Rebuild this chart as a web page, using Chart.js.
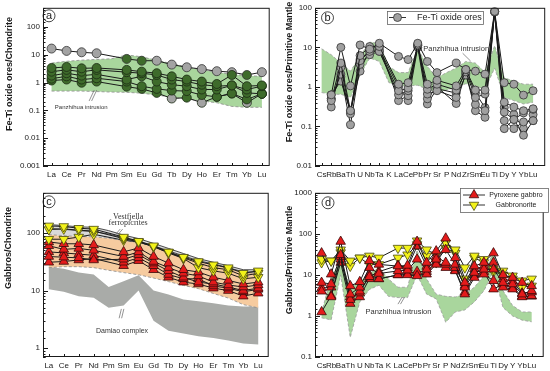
<!DOCTYPE html>
<html>
<head>
<meta charset="utf-8">
<script src="https://cdn.jsdelivr.net/npm/chart.js@4/dist/chart.umd.min.js"></script>
<style>
  body { margin: 0; background: #fff; }
  #wrap { position: relative; width: 550px; height: 371px; }
  canvas { position: absolute; }
</style>
</head>
<body>
<div id="wrap">
  <canvas id="chartA" width="275" height="185" style="left:0;top:0"></canvas>
  <canvas id="chartB" width="275" height="185" style="left:275px;top:0"></canvas>
  <canvas id="chartC" width="275" height="186" style="left:0;top:185px"></canvas>
  <canvas id="chartD" width="275" height="186" style="left:275px;top:185px"></canvas>
</div>
<script>
// categories
const reeCats = ['La', 'Ce', 'Pr', 'Nd', 'Pm', 'Sm', 'Eu', 'Gd', 'Tb', 'Dy', 'Ho', 'Er', 'Tm', 'Yb', 'Lu']
const spiderCats = ['Cs', 'Rb', 'Ba', 'Th', 'U', 'Nb', 'Ta', 'K', 'La', 'Ce', 'Pb', 'Pr', 'Sr', 'P', 'Nd', 'Zr', 'Sm', 'Eu', 'Ti', 'Dy', 'Y', 'Yb', 'Lu']

// (a) Fe-Ti oxide ores / chondrite
const oreReeTop = [17, 14, 12.5, 11.5, null, 7.2, 6.2, 6.2, 4.5, 3.6, 3.1, 2.6, 2.4, 1.9, 2.4]
const oreRee1 = [3.4, 3.7, 3.3, 3.4, null, 2.9, 2.5, 2.2, 1.7, 1.3, 1.1, 0.9, 1.9, 0.75, 0.8]
const oreRee2 = [2.5, 2.9, 2.5, 2.9, null, 2.4, 2.2, 1.9, 1.3, 1.1, 0.85, 0.75, 0.8, 0.57, 0.75]
const oreRee3 = [1.8, 2.2, 1.8, 2.0, null, 1.3, 1.7, 1.1, 0.85, 0.75, 0.57, 0.57, 0.8, 0.43, 0.4]
const oreRee4 = [1.4, 1.7, 1.3, 1.45, null, 1.1, 0.75, 0.6, 0.52, 0.5, 0.36, 0.31, 0.41, 0.25, 0.4]
const oreRee5 = [1.2, 1.3, 1.0, 1.1, null, 0.72, 0.6, 0.43, 0.27, 0.29, 0.19, 0.31, 0.41, 0.19, 0.4]
const pzhReeHigh = [5.1, 5.9, 6.5, 6.9, 7.3, 10, 8.6, 6.4, 4.9, 3.7, 2.9, 2.4, 2.0, 1.8, 1.7]
const pzhReeLow = [0.5, 0.5, 0.5, 0.48, 0.46, 0.45, 0.42, 0.36, 0.3, 0.26, 0.22, 0.19, 0.14, 0.13, 0.13]

// (b) Fe-Ti oxide ores / primitive mantle
const oreSpider1 = [null, 0.63, 10, 1.06, 11.5, 9, 12.7, null, 5.9, 4.9, 12.7, 4.4, 2.3, null, 4.0, 2.75, 2.5, 2.1, 81, 1.28, 1.17, 0.62, 0.8]
const oreSpider2 = [null, 0.45, 4.0, 0.25, 6.2, 10.5, 10.5, null, 1.17, 1.28, 11.5, 1.17, 1.47, null, 1.06, 2.75, 0.83, 0.83, 81, 0.41, 0.31, 0.25, 0.28]
const oreSpider3 = [null, 0.31, 3.1, 0.21, 4.6, 7.9, 7.9, null, 0.8, 0.93, 11, 0.87, 1.17, null, 0.83, 2.4, 0.54, 0.66, 80, 0.23, 0.15, 0.22, 0.27]
const oreSpider4 = [null, 0.5, 2.1, 0.11, 3.7, 6.5, 7.9, null, 0.63, 0.8, 11, 0.66, 0.8, null, 0.54, 2.0, 0.36, 0.25, 78, 0.14, 0.088, 0.13, 0.14]
const oreSpider5 = [null, 0.63, 1.4, 0.25, 2.5, 9, 10.5, null, 0.45, 0.6, 12, 0.5, 1.0, null, 0.38, 2.2, 0.25, 0.17, 80, 0.088, 0.15, 0.06, 0.14]
const oreSpider6 = [null, 0.5, 1.8, 0.23, 5.0, 8, 9, null, 1.0, 0.45, 10, 0.37, 0.9, null, 0.7, 2.6, 0.7, 0.3, 79, 0.3, 0.2, 0.088, 0.2]
const pzhSpiderHigh = [9.2, 6.5, 4, 2.5, 6, 13.5, 12.7, 3.3, 2.3, 2.3, 9.5, 3.3, 1.7, 2.3, 3, 4.4, 4, 2.3, 11, 1.7, 1.4, 1.17, 1.17]
const pzhSpiderLow = [0.72, 0.65, 0.65, 0.54, 2, 5.4, 4.4, 1.28, 1.06, 1.06, 1.1, 0.87, 0.72, 0.83, 1.0, 1.2, 1.06, 0.87, 3, 0.54, 0.45, 0.37, 0.41]

// (c) gabbros / chondrite
const gnRee1 = [133, 130, 121, 117, null, 85, 72, 60, 47, 38, 32, 28, 25, 20, 22]
const gnRee2 = [78, 78, 85, 95, null, 75, 70, 58, 45, 36, 25, 22, 20, 16, 17]
const gnRee3 = [115, 118, 112, 108, null, 80, 70, 58, 46, 37, 30, 25, 23, 18, 20]
const pxRee1 = [70, 65, 65, 62, null, 47, 55, 39, 30, 23, 21, 17, 15, 13, 14]
const pxRee2 = [60, 52, 54, 50, null, 39, 47, 32, 25, 20, 18, 14, 12.5, 11.5, 12.5]
const pxRee3 = [47, 45, 43, 41, null, 31, 37, 27, 19, 16, 16, 12, 11, 9.5, 10.5]
const pxRee4 = [31, 32, 34, 36, null, 27, 33, 23, 17, 14, 13, 11, 10, 8, 9]
const pxRee5 = [39, 38, 37, 34, null, 35, 42, 30, 22, 17, 14, 13, 11.5, 10, 11]
const vestHigh = [140, 135, 128, 126, 110, 92, 80, 66, 54, 44, 36, 31, 27, 23, 23]
const vestMid = [120, 116, 110, 106, 96, 82, 72, 60, 49, 40, 33, 29, 25, 21, 21]
const pzhGabbroHigh = [94, 90, 87, 86, 81, 74, 68, 58, 47, 39, 32, 28, 24.5, 20.5, 20]
const pzhGabbroLow = [25, 26, 26, 25, 22.5, 20.5, 18.8, 16.5, 14.3, 12.3, 10.8, 8.9, 7.4, 5.7, 5.0]
const damiaoHigh = [26, 24, 20.5, 19, 11.5, 14.5, 18.5, 10, 8.5, 7, 6.5, 6, 5.5, 5.3, 5.3]
const damiaoLow = [10.5, 9.5, 8, 7.5, 5, 5.5, 10, 3, 2, 1.8, 1.6, 1.5, 1.35, 1.2, 1.15]

// (d) gabbros / primitive mantle
const pxSpider1 = [34, 10.4, 65, 5.4, 6.8, 22, 18, null, 16.4, 17, 65, 20, 38, 78, 26, 6.5, 16.4, 20, 34, 10, 8.6, 6.5, 5.4]
const pxSpider2 = [6.5, 6, 31, 3.4, 5, 15, 10.8, null, 12.5, 13, 24, 13.7, 24, 41, 18, 5, 11.4, 13.7, 13.7, 6.5, 6, 3.4, 4.1]
const pxSpider3 = [4.8, 5, 24, 2.9, 3.6, 10, 8, null, 10, 10, 9.5, 10.4, 18, 18, 12.5, 3.4, 8.6, 10.4, 7.2, 5, 4.5, 2.9, 3.1]
const pxSpider4 = [1.25, 3.1, 20, 2.0, 2.9, 8, 8, null, 10, 11, 12, 12, 20, 15, 13, 3.8, 10, 12, 4.5, 6, 5, 3, 3]
const pxSpider5 = [4, 2.9, 28, 2.5, 4, 9, 12, null, 17, 15, 50, 16, 28, 20, 15, 5.5, 14, 16, 20, 8, 7, 3.6, 3.8]
const gnSpider1 = [24, 22, 41, 22, 26, 29, 26, null, 45, 45, 68, 41, 31, 60, 41, 15, 29, 24, 13.7, 12.5, 9.5, 7.2, 8]
const gnSpider2 = [20, 22, 35, 16.4, 26, 18, 18, null, 26, 31, 55, 29, 20, 45, 34, 8, 26, 20, 12, 10, 8, 5, 5.4]
const pzhGabbroSpiderHigh = [1.2, 9, 22, 5, 7, 11, 15, 8, 5, 5, 40, 8, 3.4, 3, 2.9, 3.4, 5, 9.5, 38, 4.1, 1.8, 1.25, 1.25]
const pzhGabbroSpiderLow = [0.9, 0.8, 10, 0.3, 2.2, 4.4, 5.6, 3, 2.8, 2.8, 10, 3.4, 2.6, 0.7, 1.25, 1.4, 2.2, 4.1, 12.5, 1.6, 1.0, 0.79, 0.72]

const FONT = '"Liberation Sans", Arial, sans-serif'
const SERIF = '"Liberation Serif", "Times New Roman", serif'
const FIELD_GREEN = '#a9d69d'

const GREEN_DOT = { style: 'circle', radius: 4.5, fill: '#3e6b2b', stroke: '#1c2b14' }
const GRAY_DOT = { style: 'circle', radius: 4.5, fill: '#a3a3a3', stroke: '#333' }
const ORE_DOT = { style: 'circle', radius: 4, fill: '#a0a0a0', stroke: '#333' }
const RED_UP = { style: 'triangle', radius: 5.5, fill: '#e41b1b', stroke: '#3a0a0a' }
const YELLOW_DOWN = { style: 'triangle', radius: 5.5, rotation: 180, fill: '#f2f21a', stroke: '#4a4a10' }

const isDecade = v => Math.abs(Math.log10(v) - Math.round(Math.log10(v))) < 1e-6
const pts = vals => vals.map((v, i) => (v == null ? null : { x: i, y: v })).filter(Boolean)
const keep = (vals, arr) => arr.filter((_, i) => vals[i] != null)

function sampleLine(vals, marker, fills) {
  return {
    data: pts(vals),
    borderColor: '#1a1a1a',
    borderWidth: 1,
    pointStyle: marker.style,
    pointRadius: marker.radius,
    pointRotation: marker.rotation || 0,
    pointBackgroundColor: fills ? keep(vals, fills) : marker.fill,
    pointBorderColor: marker.stroke,
    pointBorderWidth: 0.8,
    order: 0,
  }
}

// a field is one closed outline: upper edge forward, lower edge back
function field(upper, lower, color) {
  return {
    data: [...pts(upper), ...pts(lower).reverse()],
    fill: 'shape',
    backgroundColor: color,
    borderColor: 'rgba(0,0,0,0)',
    borderWidth: 0,
    pointRadius: 0,
    order: 6,
  }
}

function edge(vals, color, dashed) {
  return {
    data: pts(vals),
    borderColor: color,
    borderWidth: 0.8,
    borderDash: dashed ? [3, 2] : [],
    pointRadius: 0,
    fill: false,
    order: 5,
  }
}

function drawMarker(ctx, m, cx, cy) {
  ctx.fillStyle = m.fill
  ctx.strokeStyle = m.stroke
  ctx.lineWidth = 0.8
  ctx.beginPath()
  if (m.style === 'circle') {
    ctx.arc(cx, cy, m.radius, 0, Math.PI * 2)
  } else {
    const dir = m.rotation === 180 ? -1 : 1
    const r = m.radius
    ctx.moveTo(cx, cy - dir * r)
    ctx.lineTo(cx + r * 0.866, cy + dir * r * 0.5)
    ctx.lineTo(cx - r * 0.866, cy + dir * r * 0.5)
    ctx.closePath()
  }
  ctx.fill()
  ctx.stroke()
}

// frame, inward ticks, axis title, panel letter, notes and legend box
const decor = {
  id: 'decor',
  afterDraw(chart, args, o) {
    const { ctx, chartArea: a, scales: { x, y } } = chart
    ctx.save()
    ctx.strokeStyle = '#1a1a1a'
    ctx.lineWidth = 1
    ctx.strokeRect(a.left + 0.5, a.top + 0.5, a.right - a.left - 1, a.bottom - a.top - 1)

    ctx.beginPath()
    y.ticks.forEach(t => {
      const py = Math.round(y.getPixelForValue(t.value)) + 0.5
      ctx.moveTo(a.left, py)
      ctx.lineTo(a.left + (isDecade(t.value) ? 5 : 2.5), py)
    })
    x.ticks.forEach(t => {
      const px = Math.round(x.getPixelForValue(t.value)) + 0.5
      ctx.moveTo(px, a.bottom)
      ctx.lineTo(px, a.bottom - 3)
    })
    ctx.stroke()

    // y title sits a bit above the plot middle in the original
    ctx.save()
    ctx.translate(o.title.x, o.title.y)
    ctx.rotate(-Math.PI / 2)
    ctx.font = `bold 9px ${FONT}`
    ctx.fillStyle = '#1a1a1a'
    ctx.textAlign = 'center'
    ctx.textBaseline = 'middle'
    ctx.fillText(o.title.text, 0, 0)
    ctx.restore()

    const lx = a.left + o.letter.dx
    const ly = a.top + o.letter.dy
    ctx.beginPath()
    ctx.arc(lx, ly, 6, 0, Math.PI * 2)
    ctx.lineWidth = 0.8
    ctx.stroke()
    ctx.font = `11px ${FONT}`
    ctx.fillStyle = '#1a1a1a'
    ctx.textAlign = 'center'
    ctx.textBaseline = 'middle'
    ctx.fillText(o.letter.text, lx, ly + 0.5)

    const notes = o.notes || []
    notes.forEach(n => {
      ctx.font = `${n.size}px ${n.family || FONT}`
      ctx.fillStyle = '#333'
      ctx.textAlign = n.align || 'left'
      ctx.textBaseline = 'middle'
      ctx.fillText(n.text, x.getPixelForValue(n.x), y.getPixelForValue(n.y))
    })

    const leaders = o.leaders || []
    ctx.strokeStyle = '#666'
    ctx.lineWidth = 0.7
    leaders.forEach(l => {
      const x1 = x.getPixelForValue(l.x1)
      const y1 = y.getPixelForValue(l.y1)
      const x2 = x.getPixelForValue(l.x2)
      const y2 = y.getPixelForValue(l.y2)
      ctx.beginPath()
      ctx.moveTo(x1, y1)
      ctx.lineTo(x2, y2)
      if (l.double) {
        ctx.moveTo(x1 + 2.5, y1)
        ctx.lineTo(x2 + 2.5, y2)
      }
      ctx.stroke()
    })

    const L = o.legend
    if (L) {
      ctx.fillStyle = '#fff'
      ctx.fillRect(L.x, L.y, L.w, L.h)
      ctx.strokeStyle = '#666'
      ctx.lineWidth = 0.8
      ctx.strokeRect(L.x + 0.5, L.y + 0.5, L.w, L.h)
      L.items.forEach(it => {
        ctx.strokeStyle = '#333'
        ctx.lineWidth = 1
        ctx.beginPath()
        ctx.moveTo(L.lineX1, it.y)
        ctx.lineTo(L.lineX2, it.y)
        ctx.stroke()
        drawMarker(ctx, it.marker, (L.lineX1 + L.lineX2) / 2, it.y)
        ctx.fillStyle = '#222'
        ctx.font = `${L.size}px ${FONT}`
        ctx.textAlign = L.textAlign
        ctx.textBaseline = 'middle'
        ctx.fillText(it.label, L.textX, it.y)
      })
    }
    ctx.restore()
  },
}

function makeChart(id, cfg) {
  return new Chart(document.getElementById(id), {
    type: 'line',
    data: { datasets: cfg.datasets },
    options: {
      responsive: false,
      animation: false,
      events: [],
      layout: { padding: { top: cfg.top, right: cfg.right, left: 0, bottom: 0 } },
      elements: { line: { tension: 0 } },
      plugins: {
        legend: { display: false },
        tooltip: { enabled: false },
        decor: cfg.decor,
      },
      scales: {
        x: {
          type: 'linear',
          min: cfg.xMin,
          max: cfg.xMax,
          grid: { display: false, drawTicks: false },
          border: { display: false },
          afterBuildTicks: scale => {
            scale.ticks = cfg.cats.map((_, i) => ({ value: i }))
          },
          afterFit: scale => {
            scale.height = cfg.xHeight
          },
          ticks: {
            autoSkip: false,
            maxRotation: 0,
            padding: 4,
            color: '#1a1a1a',
            font: { family: FONT, size: 8 },
            callback: v => cfg.cats[v] ?? '',
          },
        },
        y: {
          type: 'logarithmic',
          min: cfg.yMin,
          max: cfg.yMax,
          grid: { display: false, drawTicks: false },
          border: { display: false },
          afterFit: scale => {
            scale.width = cfg.yWidth
          },
          ticks: {
            autoSkip: false,
            padding: 3,
            color: '#1a1a1a',
            font: { family: FONT, size: 8 },
            callback: v => (isDecade(v) ? String(Number(v.toPrecision(1))) : ''),
          },
        },
      },
    },
    plugins: [decor],
  })
}

// a few top-series points are dark green in the original
const oreTopFills = reeCats.map(c => (['Sm', 'Eu', 'Yb'].includes(c) ? GREEN_DOT.fill : GRAY_DOT.fill))
const oreLowFills = reeCats.map(c => (['Tb', 'Ho', 'Yb', 'Lu'].includes(c) ? GRAY_DOT.fill : GREEN_DOT.fill))

makeChart('chartA', {
  cats: reeCats,
  top: 5, right: 2, yWidth: 43, xHeight: 19,
  xMin: -0.57, xMax: 14.52, yMin: 0.001, yMax: 500,
  datasets: [
    sampleLine(oreRee1, GREEN_DOT),
    sampleLine(oreRee2, GREEN_DOT),
    sampleLine(oreRee3, GREEN_DOT),
    sampleLine(oreRee4, GREEN_DOT),
    sampleLine(oreRee5, GREEN_DOT, oreLowFills),
    sampleLine(oreReeTop, GRAY_DOT, oreTopFills),
    edge(pzhReeHigh, '#8a8a8a', true),
    edge(pzhReeLow, '#8a8a8a', true),
    field(pzhReeHigh, pzhReeLow, FIELD_GREEN),
  ],
  decor: {
    title: { text: 'Fe-Ti oxide ores/Chondrite', x: 10, y: 74 },
    letter: { text: 'a', dx: 6, dy: 8 },
    notes: [{ text: 'Panzhihua intrusion', x: 0.22, y: 0.126, size: 6 }],
    leaders: [{ x1: 2.5, y1: 0.22, x2: 2.84, y2: 0.54, double: true }],
  },
})

makeChart('chartB', {
  cats: spiderCats,
  top: 5, right: 1, yWidth: 40, xHeight: 19,
  xMin: -0.69, xMax: 23.26, yMin: 0.01, yMax: 100,
  datasets: [
    sampleLine(oreSpider1, ORE_DOT),
    sampleLine(oreSpider2, ORE_DOT),
    sampleLine(oreSpider3, ORE_DOT),
    sampleLine(oreSpider4, ORE_DOT),
    sampleLine(oreSpider5, ORE_DOT),
    sampleLine(oreSpider6, ORE_DOT),
    edge(pzhSpiderHigh, '#9a9a9a', true),
    edge(pzhSpiderLow, '#9a9a9a', true),
    field(pzhSpiderHigh, pzhSpiderLow, FIELD_GREEN),
  ],
  decor: {
    title: { text: 'Fe-Ti oxide ores/Primitive Mantle', x: 15, y: 72 },
    letter: { text: 'b', dx: 12.5, dy: 10 },
    notes: [{ text: 'Panzhihua intrusion', x: 10.57, y: 8.9, size: 7.5 }],
    leaders: [{ x1: 14.67, y1: 7.1, x2: 15.5, y2: 4.5 }],
    legend: {
      x: 112, y: 11, w: 96, h: 13, lineX1: 114, lineX2: 131, textX: 142, textAlign: 'left', size: 9,
      items: [{ label: 'Fe-Ti oxide ores', marker: ORE_DOT, y: 17.5 }],
    },
  },
})

makeChart('chartC', {
  cats: reeCats,
  top: 2, right: 2, yWidth: 43, xHeight: 14,
  xMin: -0.39, xMax: 14.7, yMin: 0.7, yMax: 500,
  datasets: [
    sampleLine(gnRee1, YELLOW_DOWN),
    sampleLine(gnRee3, YELLOW_DOWN),
    sampleLine(gnRee2, YELLOW_DOWN),
    sampleLine(pxRee1, RED_UP),
    sampleLine(pxRee2, RED_UP),
    sampleLine(pxRee5, RED_UP),
    sampleLine(pxRee3, RED_UP),
    sampleLine(pxRee4, RED_UP),
    edge(vestHigh, '#222', false),
    edge(vestMid, '#222', false),
    edge(pzhGabbroHigh, '#8a8a8a', true),
    edge(pzhGabbroLow, '#8a8a8a', true),
    field(vestHigh, pzhGabbroHigh, '#d9d9d9'),
    field(pzhGabbroHigh, pzhGabbroLow, '#f6cb9f'),
    field(damiaoHigh, damiaoLow, '#a9aba8'),
  ],
  decor: {
    title: { text: 'Gabbros/Chondrite', x: 9, y: 63 },
    letter: { text: 'c', dx: 6, dy: 9 },
    notes: [
      { text: 'Vestfjella', x: 5.3, y: 192, size: 8, family: SERIF, align: 'center' },
      { text: 'ferropicrites', x: 5.3, y: 147, size: 8, family: SERIF, align: 'center' },
      { text: 'Damiao complex', x: 3.15, y: 2.0, size: 7 },
    ],
    leaders: [
      { x1: 4.77, y1: 117, x2: 4.44, y2: 93, double: true },
      { x1: 4.7, y1: 3.3, x2: 4.85, y2: 4.8, double: true },
    ],
  },
})

makeChart('chartD', {
  cats: spiderCats,
  top: 3, right: 1, yWidth: 40, xHeight: 14,
  xMin: -0.69, xMax: 23.26, yMin: 0.1, yMax: 1000,
  datasets: [
    sampleLine(pxSpider1, RED_UP),
    sampleLine(pxSpider2, RED_UP),
    sampleLine(pxSpider5, RED_UP),
    sampleLine(pxSpider3, RED_UP),
    sampleLine(pxSpider4, RED_UP),
    sampleLine(gnSpider1, YELLOW_DOWN),
    sampleLine(gnSpider2, YELLOW_DOWN),
    edge(pzhGabbroSpiderHigh, '#9a9a9a', true),
    edge(pzhGabbroSpiderLow, '#9a9a9a', true),
    field(pzhGabbroSpiderHigh, pzhGabbroSpiderLow, FIELD_GREEN),
  ],
  decor: {
    title: { text: 'Gabbros/Primitive Mantle', x: 15, y: 75 },
    letter: { text: 'd', dx: 13, dy: 10 },
    notes: [{ text: 'Panzhihua intrusion', x: 4.6, y: 1.25, size: 7.5 }],
    leaders: [{ x1: 8.0, y1: 1.94, x2: 8.42, y2: 2.85, double: true }],
    legend: {
      x: 185, y: 3, w: 88, h: 24, lineX1: 188, lineX2: 210, textX: 241, textAlign: 'center', size: 7,
      items: [
        { label: 'Pyroxene gabbro', marker: RED_UP, y: 10 },
        { label: 'Gabbronorite', marker: YELLOW_DOWN, y: 20 },
      ],
    },
  },
})
</script>
</body>
</html>
